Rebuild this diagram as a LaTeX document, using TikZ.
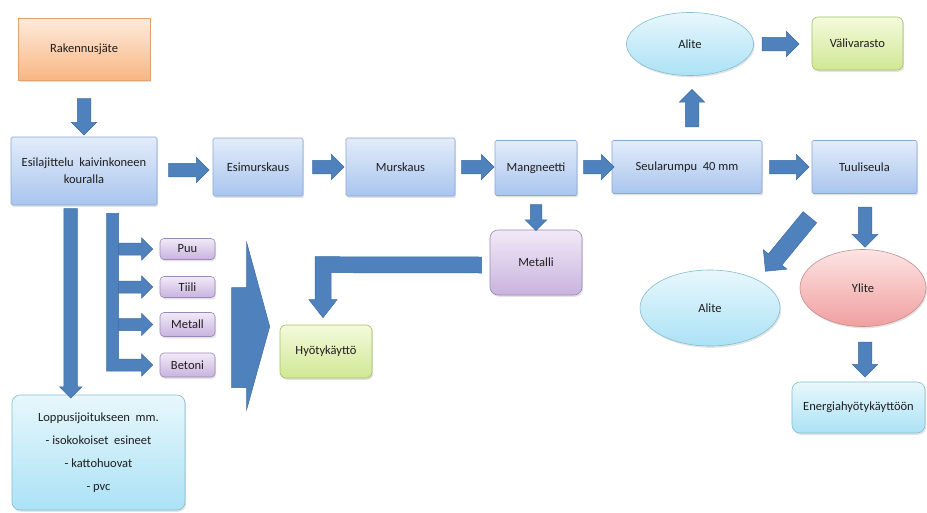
\documentclass[tikz,border=0pt]{standalone}
\usepackage{fontspec}
\setmainfont{Carlito}
\usetikzlibrary{shapes.arrows,shapes.geometric,calc,shadows}
\definecolor{bluetop}{HTML}{E3ECFA}
\definecolor{bluebot}{HTML}{A9C5EE}
\definecolor{bluebd}{HTML}{8AA7D6}
\definecolor{arrfill}{HTML}{4F81BD}
\definecolor{arrbd}{HTML}{3F6CA3}
\definecolor{ortop}{HTML}{FEEBDC}
\definecolor{orbot}{HTML}{F8B683}
\definecolor{orbd}{HTML}{E0A070}
\definecolor{putop}{HTML}{F1EAF7}
\definecolor{pubot}{HTML}{C9B3DE}
\definecolor{pubd}{HTML}{9C88B8}
\definecolor{grtop}{HTML}{F4FADC}
\definecolor{grbot}{HTML}{D0E794}
\definecolor{grbd}{HTML}{A4BF6A}
\definecolor{cytop}{HTML}{E8F7FC}
\definecolor{cybot}{HTML}{ABE2F5}
\definecolor{cybd}{HTML}{84BDD2}
\definecolor{pktop}{HTML}{FDE4E4}
\definecolor{pkbot}{HTML}{F09F9F}
\definecolor{pkbd}{HTML}{C98C8C}
\definecolor{txt}{HTML}{1E1E1E}
\tikzset{
  shade/.style={drop shadow={opacity=0.22,shadow xshift=1.2pt,shadow yshift=-1.8pt}},
  bluebox/.style={shade,draw=bluebd,line width=0.6pt,top color=bluetop,bottom color=bluebot,rounded corners=1.5pt,inner sep=2pt,align=center},
  orangebox/.style={shade,draw=orbd,line width=0.6pt,top color=ortop,bottom color=orbot,inner sep=2pt},
  purplebox/.style={shade,draw=pubd,line width=0.6pt,top color=putop,bottom color=pubot,rounded corners=4pt,inner sep=1pt},
  greenbox/.style={shade,draw=grbd,line width=0.6pt,top color=grtop,bottom color=grbot,rounded corners=6pt,inner sep=2pt},
  cyanbox/.style={shade,draw=cybd,line width=0.6pt,top color=cytop,bottom color=cybot,rounded corners=8pt,inner sep=2pt,align=center},
  cyanell/.style={shade,ellipse,draw=cybd,line width=0.6pt,top color=cytop,bottom color=cybot,inner sep=0pt},
  pinkell/.style={shade,ellipse,draw=pkbd,line width=0.6pt,top color=pktop,bottom color=pkbot,inner sep=0pt},
  barrow/.style={single arrow,fill=arrfill,draw=arrbd,line width=0.5pt,inner xsep=0pt,inner ysep=6.5pt,
     single arrow head extend=6pt,single arrow tip angle=90,anchor=center},
  blockpath/.style={fill=arrfill,draw=arrbd,line width=0.5pt,line join=miter}
}
\newcommand\barr[3][]{%
  \path let \p1=#2, \p2=#3, \n1={veclen(\x2-\x1,\y2-\y1)}, \n2={atan2(\y2-\y1,\x2-\x1)} in
    node[barrow,#1,minimum height=\n1,rotate=\n2] at ($(\p1)!.5!(\p2)$) {};}
\begin{document}
\begin{tikzpicture}[x=1pt,y=-1pt,font=\fontsize{12.5}{14}\selectfont,text=txt]
\useasboundingbox[fill=white] (0,0) rectangle (927,512);
% nodes
\node[orangebox,minimum width=132pt,minimum height=62pt] (rak) at (84,49) {Rakennusjäte};
\node[bluebox,minimum width=146pt,minimum height=68pt] (esi) at (84,171) {Esilajittelu\ \ kaivinkoneen\\[3pt]kouralla};
\node[bluebox,minimum width=90pt,minimum height=58pt] (esim) at (258,167) {Esimurskaus};
\node[bluebox,minimum width=109pt,minimum height=58pt] (mur) at (400.5,167) {Murskaus};
\node[bluebox,minimum width=82pt,minimum height=55pt] (mag) at (536,168) {Mangneetti};
\node[bluebox,minimum width=150pt,minimum height=53pt] (seu) at (687,167) {Seularumpu\ \ 40 mm};
\node[bluebox,minimum width=105pt,minimum height=53pt] (tuu) at (864.5,167) {Tuuliseula};
\node[cyanell,minimum width=127pt,minimum height=63pt] (al1) at (690,44) {Alite};
\node[greenbox,minimum width=91pt,minimum height=53pt] (vali) at (857.5,43.5) {Välivarasto};
\node[purplebox,minimum width=92pt,minimum height=65pt,rounded corners=8pt] (met) at (536,262.5) {Metalli};
\node[greenbox,minimum width=92pt,minimum height=53pt] (hyo) at (326,351.5) {Hyötykäyttö};
\node[purplebox,minimum width=55pt,minimum height=21pt] (puu) at (187.5,249) {Puu};
\node[purplebox,minimum width=55pt,minimum height=21pt] (tii) at (187.5,287) {Tiili};
\node[purplebox,minimum width=55pt,minimum height=24pt] (mtl) at (187.5,324.5) {Metall};
\node[purplebox,minimum width=55pt,minimum height=24pt] (bet) at (187.5,365) {Betoni};
\node[cyanbox,minimum width=173pt,minimum height=115pt,font=\fontsize{12.5}{23}\selectfont] (lop) at (98.5,452.5)
  {Loppusijoitukseen\ \ mm.\\- isokokoiset\ \ esineet\\- kattohuovat\\- pvc};
\node[cyanell,minimum width=140pt,minimum height=76pt] (al2) at (710,308) {Alite};
\node[pinkell,minimum width=126pt,minimum height=77pt] (yl) at (863,288) {Ylite};
\node[cyanbox,minimum width=133pt,minimum height=51pt] (ene) at (858.5,407.5) {Energiahyötykäyttöön};
% block arrows between nodes
\barr{($(rak.south)+(0,15)$)}{($(esi.north)+(0,-5)$)}
\barr{($(esi.east)+(8,-1)$)}{($(esim.west|-esi.east)+(-7,-1)$)}
\barr{($(esim.east)+(6,0)$)}{($(mur.west)+(-5,0)$)}
\barr{($(mur.east)+(3,0)$)}{($(mag.west|-mur.east)+(-4,0)$)}
\barr{($(mag.east|-seu.west)+(3,0)$)}{($(seu.west)+(-1,0)$)}
\barr{($(seu.east)+(4,0)$)}{($(tuu.west)+(-6,0)$)}
\barr{($(seu.north)+(5,-10)$)}{($(al1.south)+(2,17)$)}
\barr{($(al1.east)+(5,0)$)}{($(vali.west|-al1.east)+(-16,0)$)}
\barr[inner ysep=5.5pt,single arrow head extend=5pt]{($(mag.south)+(0,6)$)}{($(met.north)+(0,-2)$)}
\barr{($(tuu.south)+(0.5,10)$)}{($(tuu.south)+(0.5,50)$)}
\barr[inner ysep=8.5pt,single arrow head extend=6.5pt]{($(tuu.south west)+(1,20)$)}{($(al2.north east)+(8.5,-13)$)}
\barr{($(yl.south)+(2,12)$)}{($(ene.north)+(6.5,-8)$)}
\barr[single arrow head extend=4.5pt]{($(esi.south west)+(60,0)$)}{($(lop.north west)+(59,0)$)}
% comb from Esilajittelu to the four materials
\path[blockpath] (esi.south west) ++(96,8) coordinate (c0)
  (c0) -- ++(12,0) |- ($(puu.west)+(-18,-6)$) -- ++(0,-5) -- ($(puu.west)+(-7,0)$) -- ++(-11,11) -- ++(0,-5) -| ($(c0)+(12,0)$)
  |- ($(tii.west)+(-18,-6)$) -- ++(0,-5) -- ($(tii.west)+(-7,0)$) -- ++(-11,11) -- ++(0,-5) -| ($(c0)+(12,0)$)
  |- ($(mtl.west)+(-18,-6)$) -- ++(0,-5) -- ($(mtl.west)+(-7,0)$) -- ++(-11,11) -- ++(0,-5) -| ($(c0)+(12,0)$)
  |- ($(bet.west)+(-18,-6)$) -- ++(0,-5) -- ($(bet.west)+(-7,0)$) -- ++(-11,11) -- ++(0,-5) -| (c0) -- cycle;
% big arrow from the materials to Hyotykaytto
\path[blockpath] ($(hyo.west)+(-48,-64)$) -- ++(15,0) -- ++(0,-45) -- ($(hyo.west)+(-10,-25)$)
  -- ++(-23,83) -- ++(0,-22) -- ++(-15,0) -- cycle;
% bent arrow from Metalli to Hyotykaytto
\path[blockpath] ($(met.west)+(-8,-5.5)$) -- ($(hyo.north)+(-11,-68)$) -- ($(hyo.north)+(-11,-25)$) -- ++(-6,0)
  -- ($(hyo.north)+(-3,-7)$) -- ++(14,-18) -- ++(-6,0) -- ($(hyo.north)+(5,-52)$) -- ($(met.west)+(-8,10.5)$) -- cycle;
\end{tikzpicture}
\end{document}
